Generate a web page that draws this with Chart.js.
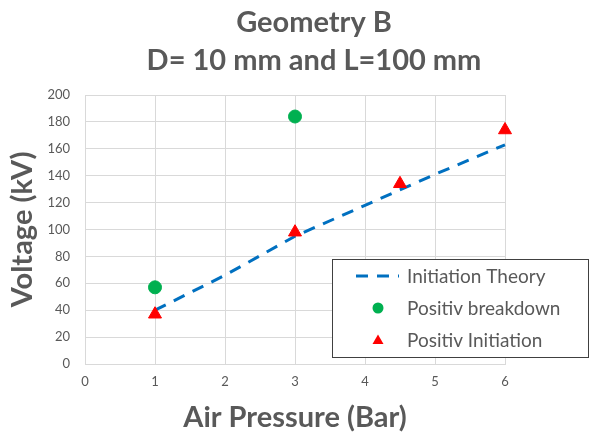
<!DOCTYPE html>
<html>
<head>
<meta charset="utf-8">
<script src="https://cdn.jsdelivr.net/npm/chart.js@4"></script>
<style>
html,body{margin:0;padding:0;background:#fff;}
#wrap{width:591px;height:436px;position:relative;}
</style>
</head>
<body>
<div id="wrap"><canvas id="chart" width="591" height="436"></canvas></div>
<script>
// data
const theoryX=[1,2,3,4,5,6];
const theoryY=[40,66,95,118,141,163];
const breakdownX=[1,3];
const breakdownY=[57,184];
const initiationX=[1,3,4.5,6];
const initiationY=[37,98,134,174];
const xTicks=[0,1,2,3,4,5,6];
const yTicks=[0,20,40,60,80,100,120,140,160,180,200];
const titleLines=["Geometry B","D= 10 mm and L=100 mm"];

const grey="#595959";
const FONT="Lato";

function pts(xs,ys){return xs.map((x,i)=>({x:x,y:ys[i]}));}

const legendItems=[
{label:"Initiation Theory",kind:"line",color:"#0070c0"},
{label:"Positiv breakdown",kind:"circle",color:"#00b050"},
{label:"Positiv Initiation",kind:"triangle",color:"#ff0000"}
];

/* title + legend box, drawn by hand */
const extras={
id:"extras",
afterDraw(chart){
const c=chart.ctx;
c.save();
c.fillStyle=grey;
c.font="bold 29px "+FONT;
c.textAlign="center";
c.textBaseline="alphabetic";
c.fillText(titleLines[0],314,32);
c.fillText(titleLines[1],314,70);

c.strokeStyle="#404040";
c.lineWidth=1;
c.fillStyle="#fff";
c.fillRect(332.5,259.5,256,98);
c.strokeRect(332.5,259.5,256,98);
c.font="19px "+FONT;
c.textAlign="left";
c.textBaseline="middle";
legendItems.forEach((it,i)=>{
let y=276+i*32;
if(it.kind=="line"){
c.strokeStyle=it.color;c.lineWidth=3;c.setLineDash([12,9]);
c.beginPath();c.moveTo(356,y);c.lineTo(399,y);c.stroke();
c.setLineDash([]);
}else if(it.kind=="circle"){
c.fillStyle=it.color;c.beginPath();c.arc(378,y,5.5,0,Math.PI*2);c.fill();
}else{
c.fillStyle=it.color;c.beginPath();
c.moveTo(378,y-5.5);c.lineTo(383.5,y+4);c.lineTo(372.5,y+4);c.closePath();c.fill();
}
c.fillStyle=grey;
c.fillText(it.label,407,y+1);
});
c.restore();
}
};

new Chart(document.getElementById("chart"),{
type:"scatter",
data:{
datasets:[
{label:"Initiation Theory",data:pts(theoryX,theoryY),showLine:true,clip:false,
borderColor:"#0070c0",borderWidth:3,borderDash:[12,9],pointRadius:0,order:3},
{label:"Positiv breakdown",data:pts(breakdownX,breakdownY),clip:false,
backgroundColor:"#00b050",borderColor:"#00b050",pointRadius:6.5,pointStyle:"circle",order:2},
{label:"Positiv Initiation",data:pts(initiationX,initiationY),clip:false,
backgroundColor:"#ff0000",borderColor:"#ff0000",pointRadius:7.5,pointStyle:"triangle",order:1}
]
},
options:{
responsive:false,
animation:false,
devicePixelRatio:1,
layout:{padding:{left:0,right:86,top:95,bottom:0}},
plugins:{
legend:{display:false},
tooltip:{enabled:false},
title:{display:false}
},
scales:{
x:{type:"linear",min:0,max:6,
afterBuildTicks:s=>{s.ticks=xTicks.map(v=>({value:v}));},
afterFit:s=>{s.height=72;},
grid:{color:"#d9d9d9",drawTicks:false},
border:{color:"#d9d9d9"},
ticks:{color:grey,padding:10,font:{family:FONT,size:13}},
title:{display:true,text:"Air Pressure (Bar)",color:grey,
font:{family:FONT,size:29,weight:"bold"},padding:{top:0,bottom:1}}
},
y:{min:0,max:200,
afterBuildTicks:s=>{s.ticks=yTicks.map(v=>({value:v}));},
afterFit:s=>{s.width=85;},
grid:{color:"#d9d9d9",drawTicks:false},
border:{color:"#d9d9d9"},
ticks:{color:grey,padding:15,font:{family:FONT,size:13}},
title:{display:true,text:"Voltage (kV)",color:grey,
font:{family:FONT,size:29,weight:"bold"},padding:{top:5,bottom:0}}
}
}
},
plugins:[extras]
});
</script>
</body>
</html>
